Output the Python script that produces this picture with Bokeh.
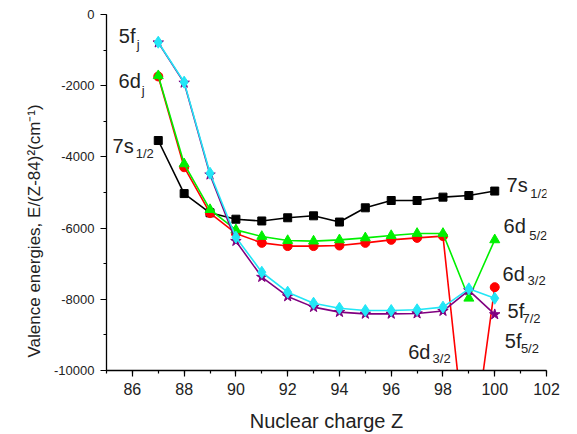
from bokeh.plotting import figure
from bokeh.models import Range1d, Label, SingleIntervalTicker, Title
from bokeh.embed import file_html
from bokeh.resources import INLINE

# Nuclear charge
Z = [87, 88, 89, 90, 91, 92, 93, 94, 95, 96, 97, 98, 99, 100]

# Valence energies scaled by (Z-84)^2, cm^-1
e_7s12 = [-3540, -5030, -5570, -5750, -5800, -5710, -5655, -5830, -5430, -5225, -5225, -5130, -5085, -4960]
e_6d52 = [-1720, -4195, -5480, -6050, -6235, -6350, -6365, -6330, -6275, -6210, -6150, -6150, -7970, -6330]
e_6d32 = [-1740, -4290, -5580, -6150, -6415, -6505, -6505, -6490, -6415, -6330, -6275, -6225, -13000, -7660]
e_5f72 = [-778, -1900, -4460, -6255, -7240, -7800, -8110, -8250, -8315, -8315, -8295, -8220, -7705, -7970]
e_5f52 = [-790, -1920, -4500, -6365, -7375, -7920, -8220, -8360, -8410, -8410, -8400, -8330, -7750, -8425]

y_ticks = [0, -2000, -4000, -6000, -8000, -10000]
y_tick_labels = ["0", "-2000", "-4000", "-6000", "-8000", "-10000"]

FONT = "Liberation Sans"
INK = "#222222"

p = figure(width=577, height=434, output_backend="svg", toolbar_location=None,
           x_range=Range1d(85, 102), y_range=Range1d(-10000, 0),
           min_border_left=106, min_border_right=31, min_border_top=14, min_border_bottom=64)
p.outline_line_color = None
p.xgrid.visible = False
p.ygrid.visible = False
p.background_fill_color = "white"
p.border_fill_color = "white"

p.xaxis.ticker = SingleIntervalTicker(interval=2, num_minor_ticks=2)
p.yaxis.ticker = SingleIntervalTicker(interval=2000, num_minor_ticks=2)
p.yaxis.major_label_overrides = {t: s for t, s in zip(y_ticks, y_tick_labels)}

for ax in (p.xaxis[0], p.yaxis[0]):
    ax.axis_line_color = "black"
    ax.axis_line_width = 1.3
    ax.major_tick_line_color = "black"
    ax.minor_tick_line_color = "black"
    ax.major_tick_line_width = 1.2
    ax.minor_tick_line_width = 1.2
    ax.major_tick_in = 0
    ax.major_tick_out = 6
    ax.minor_tick_in = 0
    ax.minor_tick_out = 3
    ax.major_label_text_font = FONT
    ax.major_label_text_color = INK
    ax.axis_label_text_font = FONT
    ax.axis_label_text_font_style = "normal"
    ax.axis_label_text_color = INK

p.xaxis.major_label_text_font_size = "16px"
p.yaxis.major_label_text_font_size = "13px"
p.xaxis.major_label_standoff = 6
p.yaxis.major_label_standoff = 6
p.xaxis.axis_label = "Nuclear charge Z"
p.xaxis.axis_label_text_font_size = "20px"
p.xaxis.axis_label_standoff = 12

# vertical axis title, starting a little above the bottom of the frame
p.add_layout(Title(text="Valence energies, E/(Z-84)\u00b2(cm\u207b\u00b9)", align="left", offset=13,
                   text_font=FONT, text_font_size="17px", text_font_style="normal",
                   text_color=INK, standoff=15), "left")

LW = 1.6
# 7s1/2
p.line(Z, e_7s12, line_color="black", line_width=LW)
p.scatter(Z, e_7s12, marker="square", size=8, fill_color="black", line_color="black")
# 6d3/2
p.line(Z, e_6d32, line_color="#ff0000", line_width=LW)
p.scatter(Z, e_6d32, marker="circle", size=9, fill_color="#ff0000", line_color="#ff0000")
# 6d5/2
p.line(Z, e_6d52, line_color="#00f000", line_width=LW)
p.scatter(Z, e_6d52, marker="triangle", size=10, fill_color="#00f000", line_color="#00f000")
# 5f5/2
p.line(Z, e_5f52, line_color="#800080", line_width=LW)
p.scatter(Z, e_5f52, marker="star", size=11, fill_color="#800080", line_color="#800080")
# 5f7/2
p.line(Z, e_5f72, line_color="#22e6f6", line_width=LW)
p.scatter(Z, e_5f72, marker="diamond", size=12, fill_color="#22e6f6", line_color="#22e6f6")


def tag(x, y, main, xs, ys, sub):
    p.add_layout(Label(x=x, y=y, text=main, text_font=FONT, text_font_size="20px",
                       text_color=INK, text_baseline="alphabetic"))
    p.add_layout(Label(x=xs, y=ys, text=sub, text_font=FONT, text_font_size="13px",
                       text_color=INK, text_baseline="alphabetic"))


tag(85.475, -590, "5f", 86.17, -830, "j")
tag(85.464, -1882, "6d", 86.36, -2135, "j")
tag(85.232, -3699, "7s", 86.13, -3913, "1/2")
tag(100.456, -4803, "7s", 101.37, -5037, "1/2")
tag(100.340, -5955, "6d", 101.33, -6208, "5/2")
tag(100.301, -7284, "6d", 101.27, -7472, "3/2")
tag(100.495, -8315, "5f", 101.07, -8548, "7/2")
tag(100.390, -9177, "5f", 101.01, -9390, "5/2")
tag(96.654, -9486, "6d", 97.60, -9672, "3/2")

open("out.html", "w").write(file_html(p, INLINE))
